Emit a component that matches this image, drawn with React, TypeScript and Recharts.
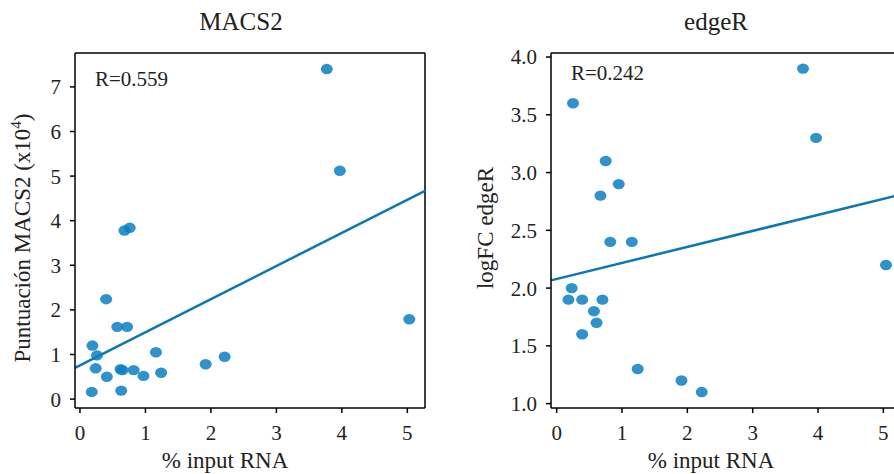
import { ScatterChart, Scatter, XAxis, YAxis, ReferenceLine } from "recharts";

// % input RNA vs MACS2 score (x10^4)
const macsX = [3.77, 3.97, 5.03, 0.68, 0.76, 0.4, 0.57, 0.72, 0.19, 0.26, 0.24, 0.41, 0.18, 0.63, 0.62, 0.65, 0.82, 0.97, 1.16, 1.24, 1.92, 2.21];
const macsY = [7.4, 5.12, 1.79, 3.78, 3.84, 2.24, 1.62, 1.62, 1.2, 0.98, 0.69, 0.5, 0.16, 0.19, 0.67, 0.65, 0.65, 0.52, 1.05, 0.59, 0.78, 0.95];

// % input RNA vs logFC edgeR
const edgeX = [3.77, 3.97, 5.04, 0.25, 0.75, 0.67, 0.95, 0.82, 1.15, 0.23, 0.18, 0.39, 0.7, 0.57, 0.61, 0.39, 1.24, 1.91, 2.22];
const edgeY = [3.9, 3.3, 2.2, 3.6, 3.1, 2.8, 2.9, 2.4, 2.4, 2.0, 1.9, 1.9, 1.9, 1.8, 1.7, 1.6, 1.3, 1.2, 1.1];

// fitted line endpoints
const macsFitX = [-0.076, 5.27];
const macsFitY = [0.7, 4.67];
const edgeFitX = [-0.087, 5.27];
const edgeFitY = [2.067, 2.81];

const xTicks = [0, 1, 2, 3, 4, 5];
const macsTicks = [0, 1, 2, 3, 4, 5, 6, 7];
const edgeTicks = [1.0, 1.5, 2.0, 2.5, 3.0, 3.5, 4.0];

const DOT = "#0a7fc2";
const LINE = "#0b77b5";
const FONT = "'Liberation Serif', 'DejaVu Serif', serif";

const macsData = macsX.map((x, i) => ({ x, y: macsY[i] }));
const edgeData = edgeX.map((x, i) => ({ x, y: edgeY[i] }));

const tickStyle = { fill: "#222", fontSize: 21, fontFamily: FONT };
const axisLine = { stroke: "#000", strokeWidth: 1.5 };
const tickLine = { stroke: "#000", strokeWidth: 1.5 };

function Dot(props: any) {
  const { cx, cy } = props;
  return <ellipse cx={cx} cy={cy} rx={6} ry={5.2} fill={DOT} fillOpacity={0.85} />;
}

function Panel(props: {
  data: { x: number; y: number }[];
  width: number;
  yWidth: number;
  xDomain: number[];
  yDomain: number[];
  yTicks: number[];
  yFmt: (v: number) => string;
  fitX: number[];
  fitY: number[];
}) {
  const { data, width, yWidth, xDomain, yDomain, yTicks, yFmt, fitX, fitY } = props;
  return (
    <ScatterChart width={width} height={474} margin={{ top: 53, right: width === 440 ? 15 : 0, bottom: 0, left: 0 }}>
      <XAxis
        type="number"
        dataKey="x"
        domain={xDomain}
        ticks={xTicks}
        allowDataOverflow
        height={66}
        tick={tickStyle}
        tickSize={5}
        tickMargin={12}
        axisLine={axisLine}
        tickLine={tickLine}
      />
      <YAxis
        type="number"
        dataKey="y"
        domain={yDomain}
        ticks={yTicks}
        allowDataOverflow
        width={yWidth}
        tick={tickStyle}
        tickFormatter={yFmt}
        tickSize={5}
        tickMargin={9}
        axisLine={axisLine}
        tickLine={tickLine}
      />
      {/* box frame: top and right edges */}
      <ReferenceLine y={yDomain[1]} stroke="#000" strokeWidth={1.5} ifOverflow="visible" />
      <ReferenceLine x={xDomain[1]} stroke="#000" strokeWidth={1.5} ifOverflow="visible" />
      <ReferenceLine
        segment={[
          { x: fitX[0], y: fitY[0] },
          { x: fitX[1], y: fitY[1] },
        ]}
        stroke={LINE}
        strokeWidth={2.5}
        ifOverflow="visible"
      />
      <Scatter data={data} shape={<Dot />} isAnimationActive={false} />
    </ScatterChart>
  );
}

export default function App() {
  return (
    <div style={{ position: "absolute", left: 0, top: 0, width: 894, height: 474, overflow: "hidden", background: "#fff", fontFamily: FONT }}>
      <div style={{ position: "absolute", left: 0, top: 0 }}>
        <Panel
          data={macsData}
          width={440}
          yWidth={75}
          xDomain={[-0.076, 5.27]}
          yDomain={[-0.2, 7.76]}
          yTicks={macsTicks}
          yFmt={(v) => String(v)}
          fitX={macsFitX}
          fitY={macsFitY}
        />
      </div>
      <div style={{ position: "absolute", left: 440, top: 0 }}>
        <Panel
          data={edgeData}
          width={461}
          yWidth={111}
          xDomain={[-0.087, 5.27]}
          yDomain={[0.962, 4.035]}
          yTicks={edgeTicks}
          yFmt={(v) => v.toFixed(1)}
          fitX={edgeFitX}
          fitY={edgeFitY}
        />
      </div>
      <svg width={894} height={474} style={{ position: "absolute", left: 0, top: 0, pointerEvents: "none" }} fontFamily={FONT} fill="#222">
        <text x={241} y={30} fontSize={25} textAnchor="middle">MACS2</text>
        <text x={716} y={30} fontSize={25} textAnchor="middle">edgeR</text>
        <text x={95} y={86} fontSize={21}>R=0.559</text>
        <text x={571} y={80} fontSize={21}>R=0.242</text>
        <text x={225} y={468} fontSize={23} textAnchor="middle">% input RNA</text>
        <text x={711} y={468} fontSize={23} textAnchor="middle">% input RNA</text>
        <text x={30} y={238} fontSize={23} textAnchor="middle" transform="rotate(-90 30 238)">
          Puntuación MACS2 (x10<tspan dy={-9} fontSize={15}>4</tspan><tspan dy={9}>)</tspan>
        </text>
        <text x={493} y={228} fontSize={23} textAnchor="middle" transform="rotate(-90 493 228)">logFC edgeR</text>
      </svg>
    </div>
  );
}
